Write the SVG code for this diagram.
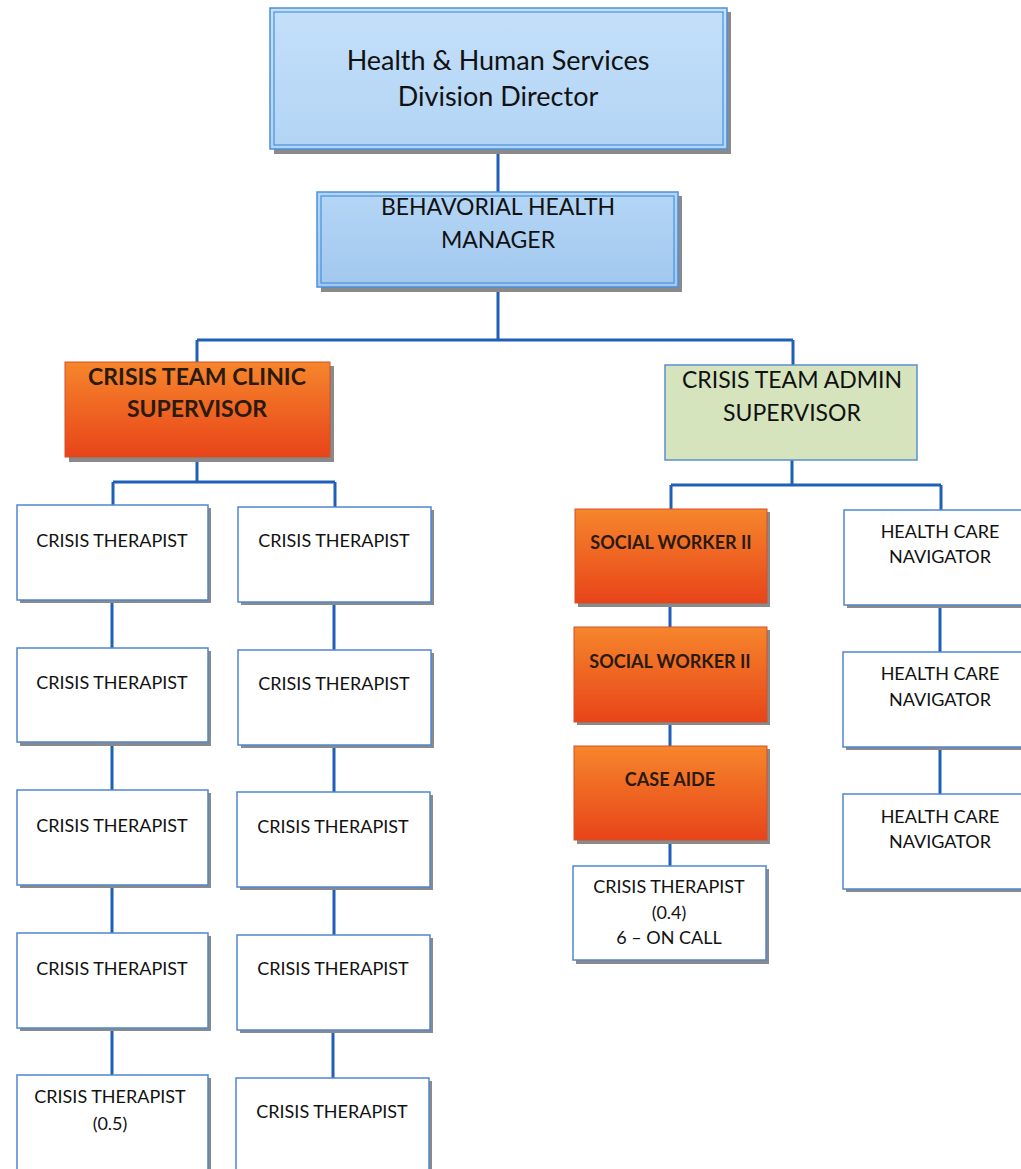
<svg xmlns="http://www.w3.org/2000/svg" width="1021" height="1169" viewBox="0 0 1021 1169">
<defs>
<linearGradient id="orange" x1="0" y1="0" x2="0" y2="1">
<stop offset="0" stop-color="#f6862c"/>
<stop offset="1" stop-color="#e84419"/>
</linearGradient>
<linearGradient id="blueTop" x1="0" y1="0" x2="0" y2="1">
<stop offset="0" stop-color="#c4e0fa"/>
<stop offset="1" stop-color="#b2d4f4"/>
</linearGradient>
<linearGradient id="blueMgr" x1="0" y1="0" x2="0" y2="1">
<stop offset="0" stop-color="#b4d6f6"/>
<stop offset="1" stop-color="#a2c8ee"/>
</linearGradient>
</defs>
<style>
.sh{fill:#8a8a8a}
.box{fill:#ffffff;stroke:#4f86cf;stroke-width:1.5}
.org{fill:url(#orange);stroke:#d0502a;stroke-width:1}
.grn{fill:#d5e4bd;stroke:#5b8fd0;stroke-width:1.5}
.blu1{fill:url(#blueTop);stroke:#4a90dc;stroke-width:1.5}
.blu2{fill:url(#blueMgr);stroke:#4a90dc;stroke-width:1.5}
.inner{fill:none;stroke:#4a90dc;stroke-width:1.2}
text{font-family:"Lato","Carlito","Liberation Sans",sans-serif;fill:#111;text-anchor:middle}
.t16{font-size:18px}
.t20{font-size:23px}
.t24{font-size:27px}
.b{font-weight:bold;fill:#2a1a10}
.conn{fill:none;stroke:#1f5fb8;stroke-width:3}
</style>

<g id="connectors">
<path class="conn" d="M498 149V192 M498 287V340 M197 340H793 M197 340V362 M793 340V365"/>
<path class="conn" d="M197 457V482 M113 482H335 M113 482V505 M335 482V507"/>
<path class="conn" d="M112 600V648 M112 742V790 M112 885V933 M112 1028V1075"/>
<path class="conn" d="M334 602V650 M334 745V792 M334 887V935 M333 1030V1078"/>
<path class="conn" d="M792 460V485 M671 485H941 M671 485V509 M941 485V510"/>
<path class="conn" d="M670 603V627 M670 722V746 M670 840V866"/>
<path class="conn" d="M940 605V652 M940 747V794"/>
</g>

<g id="director">
<rect class="sh" x="274" y="12" width="457" height="142"/>
<rect class="blu1" x="270" y="8" width="457" height="141"/>
<rect class="inner" x="274" y="12" width="449" height="133"/>
<text class="t24" x="498" y="70">Health &amp; Human Services</text>
<text class="t24" x="498" y="106">Division Director</text>
</g>

<g id="manager">
<rect class="sh" x="321" y="196" width="361" height="96"/>
<rect class="blu2" x="317" y="192" width="361" height="95"/>
<rect class="inner" x="321" y="196" width="353" height="87"/>
<text class="t20" x="498" y="215">BEHAVORIAL HEALTH</text>
<text class="t20" x="498" y="248">MANAGER</text>
</g>

<g id="clinic-supervisor">
<rect class="sh" x="69" y="366" width="265" height="96"/>
<rect class="org" x="65" y="362" width="265" height="95"/>
<text class="t20 b" x="197" y="385">CRISIS TEAM CLINIC</text>
<text class="t20 b" x="197" y="417">SUPERVISOR</text>
</g>

<g id="admin-supervisor">
<rect class="grn" x="665" y="365" width="252" height="95"/>
<text class="t20" x="792" y="388">CRISIS TEAM ADMIN</text>
<text class="t20" x="792" y="421">SUPERVISOR</text>
</g>

<g id="ct-1-1"><rect class="sh" x="20" y="508" width="191" height="95"/><rect class="box" x="17" y="505" width="191" height="95"/><text class="t16" x="112" y="547">CRISIS THERAPIST</text></g>
<g id="ct-1-2"><rect class="sh" x="20" y="651" width="191" height="95"/><rect class="box" x="17" y="648" width="191" height="94"/><text class="t16" x="112" y="689">CRISIS THERAPIST</text></g>
<g id="ct-1-3"><rect class="sh" x="20" y="793" width="191" height="95"/><rect class="box" x="17" y="790" width="191" height="95"/><text class="t16" x="112" y="832">CRISIS THERAPIST</text></g>
<g id="ct-1-4"><rect class="sh" x="20" y="936" width="191" height="95"/><rect class="box" x="17" y="933" width="191" height="95"/><text class="t16" x="112" y="975">CRISIS THERAPIST</text></g>
<g id="ct-1-5"><rect class="sh" x="20" y="1078" width="191" height="95"/><rect class="box" x="17" y="1075" width="191" height="100"/><text class="t16" x="110" y="1103">CRISIS THERAPIST</text><text class="t16" x="110" y="1130">(0.5)</text></g>

<g id="ct-2-1"><rect class="sh" x="241" y="510" width="193" height="95"/><rect class="box" x="238" y="507" width="193" height="95"/><text class="t16" x="334" y="547">CRISIS THERAPIST</text></g>
<g id="ct-2-2"><rect class="sh" x="241" y="653" width="193" height="95"/><rect class="box" x="238" y="650" width="193" height="95"/><text class="t16" x="334" y="690">CRISIS THERAPIST</text></g>
<g id="ct-2-3"><rect class="sh" x="240" y="795" width="193" height="95"/><rect class="box" x="237" y="792" width="193" height="95"/><text class="t16" x="333" y="833">CRISIS THERAPIST</text></g>
<g id="ct-2-4"><rect class="sh" x="240" y="938" width="193" height="95"/><rect class="box" x="237" y="935" width="193" height="95"/><text class="t16" x="333" y="975">CRISIS THERAPIST</text></g>
<g id="ct-2-5"><rect class="sh" x="239" y="1081" width="193" height="95"/><rect class="box" x="236" y="1078" width="193" height="100"/><text class="t16" x="332" y="1118">CRISIS THERAPIST</text></g>

<g id="social-worker-1"><rect class="sh" x="578" y="512" width="192" height="95"/><rect class="org" x="575" y="509" width="192" height="94"/><text class="t16 b" x="671" y="549">SOCIAL WORKER II</text></g>
<g id="social-worker-2"><rect class="sh" x="577" y="630" width="193" height="95"/><rect class="org" x="574" y="627" width="193" height="95"/><text class="t16 b" x="670" y="668">SOCIAL WORKER II</text></g>
<g id="case-aide"><rect class="sh" x="577" y="749" width="193" height="95"/><rect class="org" x="574" y="746" width="193" height="94"/><text class="t16 b" x="670" y="786">CASE AIDE</text></g>
<g id="ct-oncall"><rect class="sh" x="576" y="869" width="193" height="95"/><rect class="box" x="573" y="866" width="193" height="94"/><text class="t16" x="669" y="893">CRISIS THERAPIST</text><text class="t16" x="669" y="919">(0.4)</text><text class="t16" x="669" y="944">6  – ON CALL</text></g>

<g id="hcn-1"><rect class="sh" x="847" y="513" width="190" height="95"/><rect class="box" x="844" y="510" width="190" height="95"/><text class="t16" x="940" y="538">HEALTH CARE</text><text class="t16" x="940" y="563">NAVIGATOR</text></g>
<g id="hcn-2"><rect class="sh" x="846" y="655" width="190" height="95"/><rect class="box" x="843" y="652" width="190" height="95"/><text class="t16" x="940" y="680">HEALTH CARE</text><text class="t16" x="940" y="706">NAVIGATOR</text></g>
<g id="hcn-3"><rect class="sh" x="846" y="797" width="190" height="95"/><rect class="box" x="843" y="794" width="190" height="95"/><text class="t16" x="940" y="823">HEALTH CARE</text><text class="t16" x="940" y="848">NAVIGATOR</text></g>
</svg>
